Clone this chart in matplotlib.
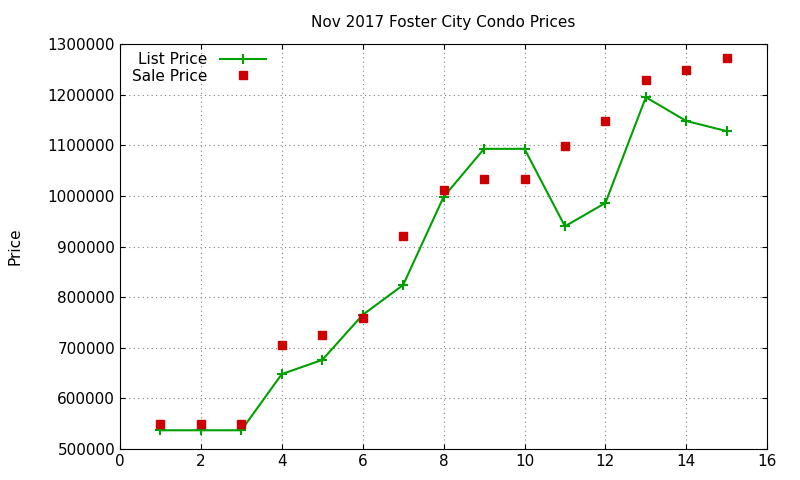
import matplotlib
matplotlib.use("Agg")
import matplotlib.pyplot as plt

x = list(range(1, 16))
list_price = [537000, 537000, 537000, 648000, 676000, 765000, 824000, 998000,
              1093000, 1093000, 940000, 986000, 1195000, 1148000, 1128000]
sale_price = [549000, 549000, 549000, 705000, 725000, 759000, 921000, 1012000,
              1033000, 1033000, 1099000, 1148000, 1229000, 1249000, 1272000]

fig = plt.figure(figsize=(8, 4.8), dpi=100)
ax = fig.add_axes([0.15, 0.0646, 0.809, 0.8436])
ax.plot(x, list_price, color="#00a000", lw=1.5, marker="+", ms=7, mew=1.5, label="List Price")
ax.plot(x, sale_price, ls="none", marker="s", ms=6, color="#cc0000", label="Sale Price")
ax.set_xlim(0, 16)
ax.set_ylim(500000, 1300000)
ax.set_xticks(range(0, 17, 2))
ax.set_yticks(range(500000, 1300001, 100000))
ax.ticklabel_format(style="plain", axis="y")
ax.grid(True, ls=(0, (1, 3)), color="#808080", lw=0.8)
ax.tick_params(direction="in", top=True, right=True, labelsize=11)
ax.set_ylabel("Price", fontsize=11, labelpad=18)
ax.set_title("Nov 2017 Foster City Condo Prices", fontsize=11, pad=12)
ax.legend(loc="upper left", bbox_to_anchor=(0.0, 1.01), frameon=False, markerfirst=False,
          fontsize=11, handlelength=3, borderpad=0.3, labelspacing=0.1)
fig.savefig("out.png")
